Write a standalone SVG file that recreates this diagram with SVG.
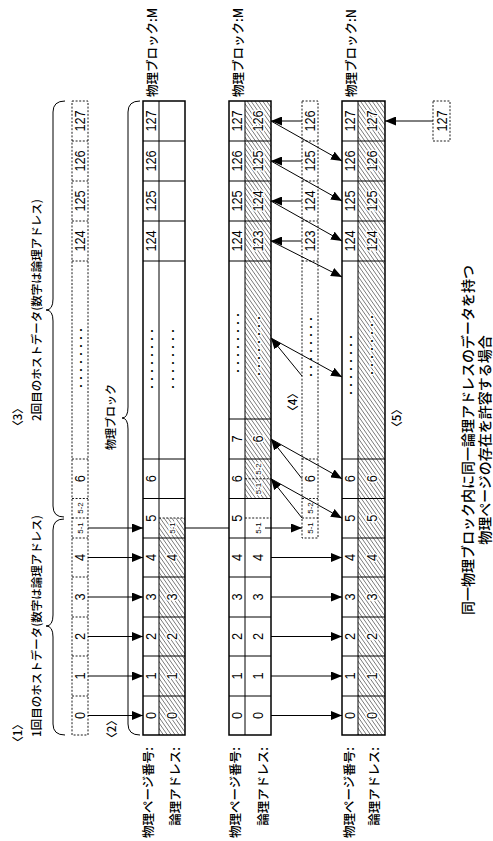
<svg xmlns="http://www.w3.org/2000/svg" width="493" height="841" viewBox="0 0 493 841">
<defs>
<pattern id="hatch" patternUnits="userSpaceOnUse" width="3.2" height="3.2" patternTransform="rotate(-35)"><line x1="0" y1="0" x2="0" y2="3.2" stroke="#000" stroke-width="0.85"/></pattern>
<marker id="ah" markerUnits="userSpaceOnUse" markerWidth="11" markerHeight="9" refX="11" refY="4.5" orient="auto"><path d="M0,0 L11,4.5 L0,9 z" fill="#000"/></marker>
</defs>
<style>
.ln{fill:none;stroke:#000;stroke-width:1}
.out{fill:none;stroke:#000;stroke-width:1.5}
.dash{fill:none;stroke:#000;stroke-width:0.9;stroke-dasharray:2 1.6}
.hf{fill:url(#hatch);stroke:none}
.n{font-family:"Liberation Sans",Arial,sans-serif;font-size:15px;text-anchor:middle;dominant-baseline:central}
.sm{font-family:"Liberation Sans",Arial,sans-serif;font-size:8px;text-anchor:middle;dominant-baseline:central}
.hw{paint-order:stroke;stroke:#fff;stroke-width:3px;stroke-linejoin:round}
.j{font-family:"Noto Sans CJK JP","Liberation Sans",sans-serif;font-size:12.5px;font-weight:500;dominant-baseline:central}
.h{font-size:11.5px;text-anchor:middle}
.t{font-size:14px;text-anchor:middle}
.e{text-anchor:end}
.s{text-anchor:start}
.dots{font-family:"Noto Sans CJK JP",sans-serif;font-size:8px;font-weight:bold;text-anchor:middle;dominant-baseline:central}
.con{stroke:#000;stroke-width:1;fill:none}
.arr{marker-end:url(#ah)}
</style>
<rect width="493" height="841" fill="#fff"/>

<g id="headers">
<text class="j h" transform="translate(17,733) rotate(-90)">〈1〉</text>
<text class="j h" transform="translate(36,626) rotate(-90)">1回目のホストデータ(数字は論理アドレス)</text>
<text class="j h" transform="translate(17,417) rotate(-90)">〈3〉</text>
<text class="j h" transform="translate(36,310) rotate(-90)">2回目のホストデータ(数字は論理アドレス)</text>
<path class="ln" d="M65,735 Q53,735 53,724 L53,637 Q53,626 46,626 Q53,626 53,615 L53,530 Q53,519 64,519"/>
<path class="ln" d="M64,517 Q53,517 53,506 L53,321 Q53,310 46,310 Q53,310 53,299 L53,112 Q53,101 65,101"/>
<text class="j h" transform="translate(111,729) rotate(-90)">〈2〉</text>
<text class="j h" style="font-size:11px" transform="translate(110,417) rotate(-90)">物理ブロック</text>
<path class="ln" d="M140,735 Q128,735 128,724 L128,429 Q128,418 122,418 Q128,418 128,407 L128,112 Q128,101 140,101"/>
<text class="j h" transform="translate(292,402) rotate(-90)">〈4〉</text>
<text class="j h" transform="translate(396,418) rotate(-90)">〈5〉</text>
<text class="j t" transform="translate(467,440) rotate(-90)">同一物理ブロック内に同一論理アドレスのデータを持つ</text>
<text class="j t" transform="translate(484,440) rotate(-90)">物理ページの存在を許容する場合</text>
</g>

<g id="host-data">
<rect class="dash" x="72" y="101" width="16" height="634"/>
<path class="dash" d="M72,141H88M72,181H88M72,221H88M72,261H88M72,459H88M72,498.5H88M72,518H88M72,538H88M72,577H88M72,617H88M72,656H88M72,696H88"/>
<text class="n" transform="translate(80,121) rotate(-90) scale(.85,1)">127</text>
<text class="n" transform="translate(80,161) rotate(-90) scale(.85,1)">126</text>
<text class="n" transform="translate(80,201) rotate(-90) scale(.85,1)">125</text>
<text class="n" transform="translate(80,241) rotate(-90) scale(.85,1)">124</text>
<text class="dots" transform="translate(80,358) rotate(-90)">・・・・・・・・</text>
<text class="n" transform="translate(80,478.75) rotate(-90) scale(.85,1)">6</text>
<text class="sm" transform="translate(80,508) rotate(-90)">5-2</text>
<text class="sm" transform="translate(80,528) rotate(-90)">5-1</text>
<text class="n" transform="translate(80,557.5) rotate(-90) scale(.85,1)">4</text>
<text class="n" transform="translate(80,597) rotate(-90) scale(.85,1)">3</text>
<text class="n" transform="translate(80,636.5) rotate(-90) scale(.85,1)">2</text>
<text class="n" transform="translate(80,676) rotate(-90) scale(.85,1)">1</text>
<text class="n" transform="translate(80,715.5) rotate(-90) scale(.85,1)">0</text>
</g>

<g id="block1">
<rect class="hf" x="159" y="518" width="26" height="217"/>
<rect class="out" x="143" y="101" width="42" height="634"/>
<path class="ln" d="M159,101V735M143,141H185M143,181H185M143,221H185M143,261H185M143,459H185M143,498.5H185M143,538H185M143,577H185M143,617H185M143,656H185M143,696H185"/>
<path class="dash" d="M159,518H185"/>
<text class="j s" transform="translate(151,97) rotate(-90)">物理ブロック:M</text>
<text class="n" transform="translate(151,121) rotate(-90) scale(.85,1)">127</text>
<text class="n" transform="translate(151,161) rotate(-90) scale(.85,1)">126</text>
<text class="n" transform="translate(151,201) rotate(-90) scale(.85,1)">125</text>
<text class="n" transform="translate(151,241) rotate(-90) scale(.85,1)">124</text>
<text class="dots" transform="translate(151,359) rotate(-90)">・・・・・・・・</text>
<text class="n" transform="translate(151,478.75) rotate(-90) scale(.85,1)">6</text>
<text class="n" transform="translate(151,518.25) rotate(-90) scale(.85,1)">5</text>
<text class="n" transform="translate(151,557.5) rotate(-90) scale(.85,1)">4</text>
<text class="n" transform="translate(151,597) rotate(-90) scale(.85,1)">3</text>
<text class="n" transform="translate(151,636.5) rotate(-90) scale(.85,1)">2</text>
<text class="n" transform="translate(151,676) rotate(-90) scale(.85,1)">1</text>
<text class="n" transform="translate(151,715.5) rotate(-90) scale(.85,1)">0</text>
<text class="dots" transform="translate(172,359) rotate(-90)">・・・・・・・・</text>
<text class="sm hw" transform="translate(172,528) rotate(-90)">5-1</text>
<text class="n hw" transform="translate(172,557.5) rotate(-90) scale(.85,1)">4</text>
<text class="n hw" transform="translate(172,597) rotate(-90) scale(.85,1)">3</text>
<text class="n hw" transform="translate(172,636.5) rotate(-90) scale(.85,1)">2</text>
<text class="n hw" transform="translate(172,676) rotate(-90) scale(.85,1)">1</text>
<text class="n hw" transform="translate(172,715.5) rotate(-90) scale(.85,1)">0</text>
<text class="j e" transform="translate(147.5,747) rotate(-90)">物理ページ番号:</text>
<text class="j e" transform="translate(174,747) rotate(-90)">論理アドレス:</text>
</g>

<g id="block2">
<rect class="hf" x="245" y="101" width="26" height="397.5"/>
<rect class="out" x="229" y="101" width="42" height="634"/>
<path class="ln" d="M245,101V735M229,141H271M229,181H271M229,221H271M229,261H271M229,419H271M229,459H271M229,498.5H271M229,538H271M229,577H271M229,617H271M229,656H271M229,696H271"/>
<path class="dash" d="M245,478.75H271M245,518H271"/>
<text class="j s" transform="translate(237,97) rotate(-90)">物理ブロック:M</text>
<text class="n" transform="translate(237,121) rotate(-90) scale(.85,1)">127</text>
<text class="n" transform="translate(237,161) rotate(-90) scale(.85,1)">126</text>
<text class="n" transform="translate(237,201) rotate(-90) scale(.85,1)">125</text>
<text class="n" transform="translate(237,241) rotate(-90) scale(.85,1)">124</text>
<text class="dots" transform="translate(237,343) rotate(-90)">・・・・・・・・</text>
<text class="n" transform="translate(237,439) rotate(-90) scale(.85,1)">7</text>
<text class="n" transform="translate(237,478.75) rotate(-90) scale(.85,1)">6</text>
<text class="n" transform="translate(237,518.25) rotate(-90) scale(.85,1)">5</text>
<text class="n" transform="translate(237,557.5) rotate(-90) scale(.85,1)">4</text>
<text class="n" transform="translate(237,597) rotate(-90) scale(.85,1)">3</text>
<text class="n" transform="translate(237,636.5) rotate(-90) scale(.85,1)">2</text>
<text class="n" transform="translate(237,676) rotate(-90) scale(.85,1)">1</text>
<text class="n" transform="translate(237,715.5) rotate(-90) scale(.85,1)">0</text>
<text class="n hw" transform="translate(258,121) rotate(-90) scale(.85,1)">126</text>
<text class="n hw" transform="translate(258,161) rotate(-90) scale(.85,1)">125</text>
<text class="n hw" transform="translate(258,201) rotate(-90) scale(.85,1)">124</text>
<text class="n hw" transform="translate(258,241) rotate(-90) scale(.85,1)">123</text>
<text class="dots hw" transform="translate(258,346) rotate(-90)">・・・・・・・・</text>
<text class="n hw" transform="translate(258,439) rotate(-90) scale(.85,1)">6</text>
<text class="sm hw" transform="translate(258,469) rotate(-90)">5-2</text>
<text class="sm hw" transform="translate(258,488.5) rotate(-90)">5-1</text>
<text class="sm" transform="translate(258,528) rotate(-90)">5-1</text>
<text class="n" transform="translate(258,557.5) rotate(-90) scale(.85,1)">4</text>
<text class="n" transform="translate(258,597) rotate(-90) scale(.85,1)">3</text>
<text class="n" transform="translate(258,636.5) rotate(-90) scale(.85,1)">2</text>
<text class="n" transform="translate(258,676) rotate(-90) scale(.85,1)">1</text>
<text class="n" transform="translate(258,715.5) rotate(-90) scale(.85,1)">0</text>
<text class="j e" transform="translate(234,747) rotate(-90)">物理ページ番号:</text>
<text class="j e" transform="translate(262.5,747) rotate(-90)">論理アドレス:</text>
</g>

<g id="data4">
<rect class="dash" x="302" y="101" width="16" height="437"/>
<path class="dash" d="M302,141H318M302,181H318M302,221H318M302,261H318M302,459H318M302,498.5H318M302,518H318"/>
<text class="n" transform="translate(310,121) rotate(-90) scale(.85,1)">126</text>
<text class="n" transform="translate(310,161) rotate(-90) scale(.85,1)">125</text>
<text class="n" transform="translate(310,201) rotate(-90) scale(.85,1)">124</text>
<text class="n" transform="translate(310,241) rotate(-90) scale(.85,1)">123</text>
<text class="dots" transform="translate(310,347) rotate(-90)">・・・・・・・・</text>
<text class="n" transform="translate(310,478.75) rotate(-90) scale(.85,1)">6</text>
<text class="sm" transform="translate(310,508) rotate(-90)">5-2</text>
<text class="sm" transform="translate(310,528) rotate(-90)">5-1</text>
</g>

<g id="block3">
<rect class="hf" x="358" y="101" width="27" height="634"/>
<rect class="out" x="342" y="101" width="43" height="634"/>
<path class="ln" d="M358,101V735M342,141H385M342,181H385M342,221H385M342,261H385M342,459H385M342,498.5H385M342,538H385M342,577H385M342,617H385M342,656H385M342,696H385"/>
<text class="j s" transform="translate(350,97) rotate(-90)">物理ブロック:N</text>
<text class="n" transform="translate(350,121) rotate(-90) scale(.85,1)">127</text>
<text class="n" transform="translate(350,161) rotate(-90) scale(.85,1)">126</text>
<text class="n" transform="translate(350,201) rotate(-90) scale(.85,1)">125</text>
<text class="n" transform="translate(350,241) rotate(-90) scale(.85,1)">124</text>
<text class="dots" transform="translate(350,365) rotate(-90)">・・・・・・・・</text>
<text class="n" transform="translate(350,478.75) rotate(-90) scale(.85,1)">6</text>
<text class="n" transform="translate(350,518.25) rotate(-90) scale(.85,1)">5</text>
<text class="n" transform="translate(350,557.5) rotate(-90) scale(.85,1)">4</text>
<text class="n" transform="translate(350,597) rotate(-90) scale(.85,1)">3</text>
<text class="n" transform="translate(350,636.5) rotate(-90) scale(.85,1)">2</text>
<text class="n" transform="translate(350,676) rotate(-90) scale(.85,1)">1</text>
<text class="n" transform="translate(350,715.5) rotate(-90) scale(.85,1)">0</text>
<text class="n hw" transform="translate(371.5,121) rotate(-90) scale(.85,1)">127</text>
<text class="n hw" transform="translate(371.5,161) rotate(-90) scale(.85,1)">126</text>
<text class="n hw" transform="translate(371.5,201) rotate(-90) scale(.85,1)">125</text>
<text class="n hw" transform="translate(371.5,241) rotate(-90) scale(.85,1)">124</text>
<text class="dots hw" transform="translate(371.5,345) rotate(-90)">・・・・・・・・</text>
<text class="n hw" transform="translate(371.5,478.75) rotate(-90) scale(.85,1)">6</text>
<text class="n hw" transform="translate(371.5,518.25) rotate(-90) scale(.85,1)">5</text>
<text class="n hw" transform="translate(371.5,557.5) rotate(-90) scale(.85,1)">4</text>
<text class="n hw" transform="translate(371.5,597) rotate(-90) scale(.85,1)">3</text>
<text class="n hw" transform="translate(371.5,636.5) rotate(-90) scale(.85,1)">2</text>
<text class="n hw" transform="translate(371.5,676) rotate(-90) scale(.85,1)">1</text>
<text class="n hw" transform="translate(371.5,715.5) rotate(-90) scale(.85,1)">0</text>
<text class="j e" transform="translate(348.5,747) rotate(-90)">物理ページ番号:</text>
<text class="j e" transform="translate(373.5,747) rotate(-90)">論理アドレス:</text>
</g>

<g id="data127">
<rect class="dash" x="433" y="101" width="17" height="40"/>
<text class="n" transform="translate(441.5,121) rotate(-90) scale(.85,1)">127</text>
</g>

<g id="connectors">
<path class="con arr" d="M88,715.5H143"/>
<path class="con arr" d="M88,676H143"/>
<path class="con arr" d="M88,636.5H143"/>
<path class="con arr" d="M88,597H143"/>
<path class="con arr" d="M88,557.5H143"/>
<path class="con arr" d="M88,528H143"/>
<path class="con" d="M185,528H229"/>
<path class="con arr" d="M265,528H302"/>
<path class="con arr" d="M271,715.5H342"/>
<path class="con arr" d="M271,676H342"/>
<path class="con arr" d="M271,636.5H342"/>
<path class="con arr" d="M271,597H342"/>
<path class="con arr" d="M271,557.5H342"/>
<path class="con arr" d="M302,121H271"/>
<path class="con arr" d="M302,161H271"/>
<path class="con arr" d="M302,201H271"/>
<path class="con arr" d="M302,241H271"/>
<path class="con arr" d="M302,376L271,338"/>
<path class="con arr" d="M302,478.75L271,439"/>
<path class="con arr" d="M302,518L271,478.75"/>
<path class="con arr" d="M271,121L342,161"/>
<path class="con arr" d="M271,161L342,201"/>
<path class="con arr" d="M271,201L342,241"/>
<path class="con arr" d="M271,241L342,277"/>
<path class="con arr" d="M271,338L342,377"/>
<path class="con arr" d="M271,439L342,478.75"/>
<path class="con arr" d="M271,478.75L342,518.25"/>
<path class="con arr" d="M433,121H385"/>
</g>
</svg>
